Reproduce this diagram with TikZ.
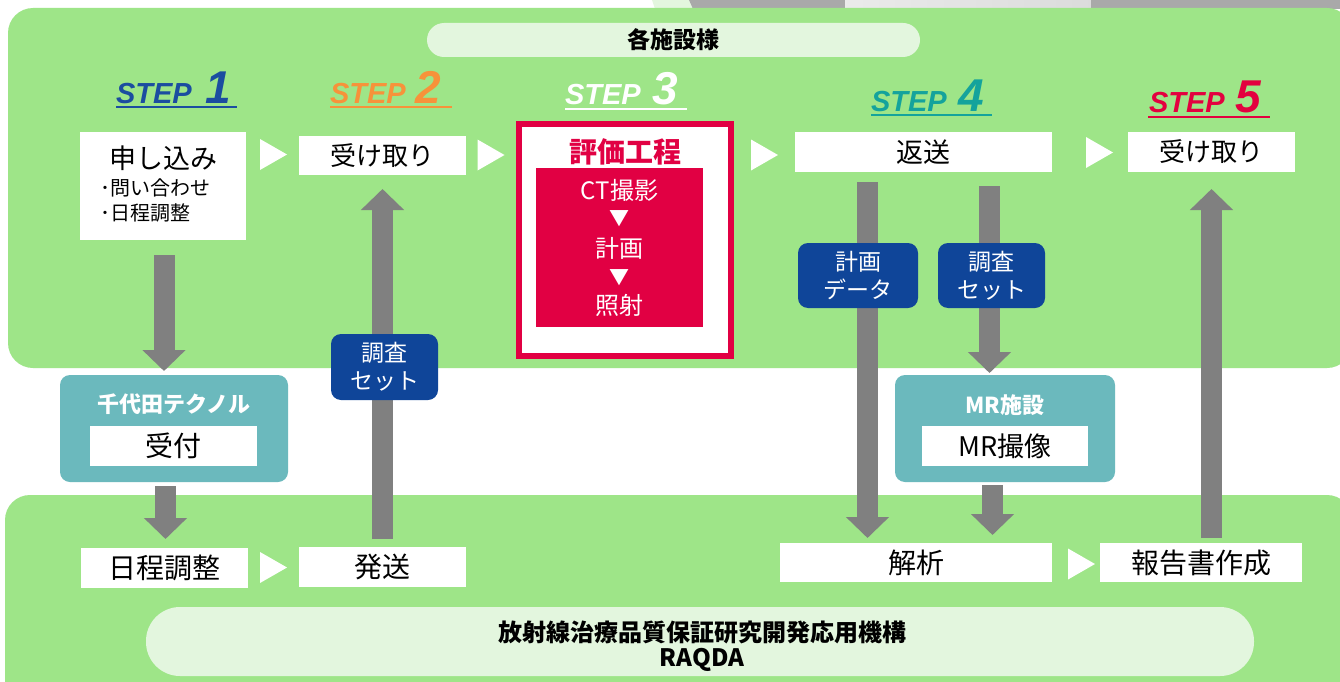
\documentclass[tikz,border=0pt]{standalone}
\usepackage{fontspec}
\setmainfont{Noto Sans CJK JP}
\newfontfamily\stepfont{Liberation Sans}
\usetikzlibrary{arrows.meta,calc}
\definecolor{panelgreen}{HTML}{9EE588}
\definecolor{pillgreen}{HTML}{E3F6DE}
\definecolor{arrowgray}{HTML}{808080}
\definecolor{tealbox}{HTML}{6BB9BD}
\definecolor{labelblue}{HTML}{0F4599}
\definecolor{evalred}{HTML}{E10043}
\definecolor{sonecol}{HTML}{1B4DA0}
\definecolor{stwocol}{HTML}{F7923A}
\definecolor{sfourcol}{HTML}{14A39C}
\definecolor{sfivecol}{HTML}{E3003F}
\definecolor{stripgray}{HTML}{A9A9A9}
\newcommand\fsz[2]{\fontsize{#1}{#2}\selectfont}
\begin{document}
\begin{tikzpicture}[x=1pt,y=-1pt,
  every node/.style={inner sep=0pt, outer sep=0pt},
  wbox/.style={fill=white},
  garrow/.style={draw=arrowgray, line width=21pt, -{Triangle[length=21pt,width=42pt]}},
  bluelabel/.style={fill=labelblue, rounded corners=10pt, text=white, align=center, font=\fsz{23}{28}},
  tealpanel/.style={fill=tealbox, rounded corners=10pt},
  steptxt/.style={anchor=base west, font=\stepfont\bfseries\itshape\fsz{29}{29}},
  stepnum/.style={anchor=base west, font=\stepfont\bfseries\itshape\fsz{46}{46}},
  wtri/.pic={\fill[white] (-13.5,-15.5) -- (13.5,0) -- (-13.5,15.5) -- cycle;}
]
\useasboundingbox (0,0) rectangle (1340,682);
\fill[white] (0,0) rectangle (1340,682);
% top strip remnants
\fill[pillgreen] (652,0) -- (689,0) -- (693,9) -- (655,9) -- cycle;
\fill[stripgray] (689,0) -- (845,0) -- (845,9) -- (693,9) -- cycle;
\shade[left color=black!8, right color=black!14] (845,0) rectangle (1091,9);
\fill[stripgray] (1091,0) rectangle (1340,9);
% panels
\fill[panelgreen, rounded corners=25pt] (8,8) rectangle (1352,368);
\fill[panelgreen, rounded corners=25pt] (5,495) rectangle (1352,720);
% pills
\node[fill=pillgreen, rounded corners=17pt, minimum width=493pt, minimum height=34pt, font=\bfseries\fsz{23}{26}] (sisetsu) at (673.5,40) {各施設様};
\node[fill=pillgreen, rounded corners=34pt, minimum width=1108pt, minimum height=69pt] (raqda) at (700,641.5) {};
\node[font=\bfseries\fsz{24}{28}] at (702,632) {放射線治療品質保証研究開発応用機構};
\node[font=\bfseries\fsz{24}{28}] at (702,660) {RAQDA};

% STEP labels
\node[steptxt, text=sonecol] (s1) at (116,103) {STEP};
\node[stepnum, text=sonecol] (s1n) at (205,103) {1};
\draw[sonecol, line width=2.2pt] (116,107) -- (237,107);
\node[steptxt, text=stwocol] (s2) at (330,103) {STEP};
\node[stepnum, text=stwocol] (s2n) at (415,103) {2};
\draw[stwocol, line width=2.2pt] (330,107) -- (452,107);
\node[steptxt, text=white] (s3) at (565,105) {STEP};
\node[stepnum, text=white] (s3n) at (652,105) {3};
\draw[white, line width=2.2pt] (565,109) -- (687,109);
\node[steptxt, text=sfourcol] (s4) at (871,111) {STEP};
\node[stepnum, text=sfourcol] (s4n) at (958,111) {4};
\draw[sfourcol, line width=2.2pt] (871,115) -- (992,115);
\node[steptxt, text=sfivecol] (s5) at (1149,113) {STEP};
\node[stepnum, text=sfivecol] (s5n) at (1235,113) {5};
\draw[sfivecol, line width=2.2pt] (1148,117) -- (1270,117);

% top row boxes
\node[wbox, minimum width=166pt, minimum height=108pt] (mos) at (163,186) {};
\node[font=\fsz{27}{30}] at (163,158) {申し込み};
\node[font=\fsz{20}{22}, anchor=west] at (100,188) {･問い合わせ};
\node[font=\fsz{20}{22}, anchor=west] at (100,213) {･日程調整};
\node[wbox, minimum width=167pt, minimum height=39pt, font=\fsz{26}{30}] (uke2) at (382.5,155.5) {受け取り};
\node[draw=evalred, line width=6pt, fill=white, minimum width=212pt, minimum height=232pt] (eval) at (625,240) {};
\node[font=\bfseries\fsz{28}{30}, text=evalred] at (625,152) {評価工程};
\node[fill=evalred, minimum width=167pt, minimum height=159pt] (evalin) at (619.5,247.5) {};
\node[font=\fsz{24}{26}, text=white] at (619.5,190) {CT撮影};
\node[font=\fsz{20}{22}, text=white] at (619.5,219) {▼};
\node[font=\fsz{24}{26}, text=white] at (619.5,248) {計画};
\node[font=\fsz{20}{22}, text=white] at (619.5,278) {▼};
\node[font=\fsz{24}{26}, text=white] at (619.5,305) {照射};
\node[wbox, minimum width=257pt, minimum height=40pt, font=\fsz{27}{30}] (hensou) at (923.5,152) {返送};
\node[wbox, minimum width=167pt, minimum height=40pt, font=\fsz{26}{30}] (uke5) at (1211.5,152) {受け取り};

% middle boxes
\node[tealpanel, minimum width=228pt, minimum height=107pt] (chiyoda) at (174,428.5) {};
\node[font=\bfseries\fsz{22}{24}, text=white] at (174,404) {千代田テクノル};
\node[wbox, minimum width=167pt, minimum height=40pt, font=\fsz{28}{30}] (uketsuke) at (173.5,446) {受付};
\node[tealpanel, minimum width=220pt, minimum height=107pt] (mrbox) at (1005,428.5) {};
\node[font=\bfseries\fsz{22}{24}, text=white] at (1005,405) {MR施設};
\node[wbox, minimum width=166pt, minimum height=40pt, font=\fsz{27}{30}] (mrsatsu) at (1005,446) {MR撮像};

% bottom row boxes
\node[wbox, minimum width=167pt, minimum height=40pt, font=\fsz{28}{30}] (nittei) at (164.5,568) {日程調整};
\node[wbox, minimum width=167pt, minimum height=40pt, font=\fsz{28}{30}] (hassou) at (382.5,567) {発送};
\node[wbox, minimum width=272pt, minimum height=39pt, font=\fsz{28}{30}] (kaiseki) at (916,562.5) {解析};
\node[wbox, minimum width=202pt, minimum height=39pt, font=\fsz{28}{30}] (houkoku) at (1201,562.5) {報告書作成};

% white triangles
\pic at (273.5,154.5) {wtri};
\pic at (491,155) {wtri};
\pic at (764.5,155) {wtri};
\pic at (1099.5,152.5) {wtri};
\pic at (273.5,567.5) {wtri};
\pic at (1081.5,564) {wtri};

% gray arrows
\draw[garrow] ($(mos.south)+(1,15)$) -- ($(chiyoda.north -| mos.south)+(1,-4)$);
\draw[garrow] ($(chiyoda.south -| nittei.north)+(1,4)$) -- ($(nittei.north)+(1,-9)$);
\draw[garrow] ($(hassou.north)+(0,-8)$) -- ($(uke2.south)+(0,14)$);
\draw[garrow] ($(hensou.south)+(-56,10)$) -- ($(kaiseki.north -| hensou.south)+(-56,-5)$);
\draw[garrow] ($(hensou.south)+(66,14)$) -- ($(mrbox.north -| hensou.south)+(66,-2)$);
\draw[garrow] ($(mrbox.south)+(-12.5,3)$) -- ($(kaiseki.north -| mrbox.south)+(-12.5,-8)$);
\draw[garrow] ($(houkoku.north -| uke5.south)+(0,-5)$) -- ($(uke5.south)+(0,17)$);

% blue labels
\node[bluelabel, minimum width=107pt, minimum height=66pt] (chousaA) at (384.5,367) {調査\\セット};
\node[bluelabel, minimum width=120pt, minimum height=65pt] (keikaku) at (858,275.5) {計画\\データ};
\node[bluelabel, minimum width=107pt, minimum height=65pt] (chousaB) at (991.5,275.5) {調査\\セット};
\end{tikzpicture}
\end{document}
